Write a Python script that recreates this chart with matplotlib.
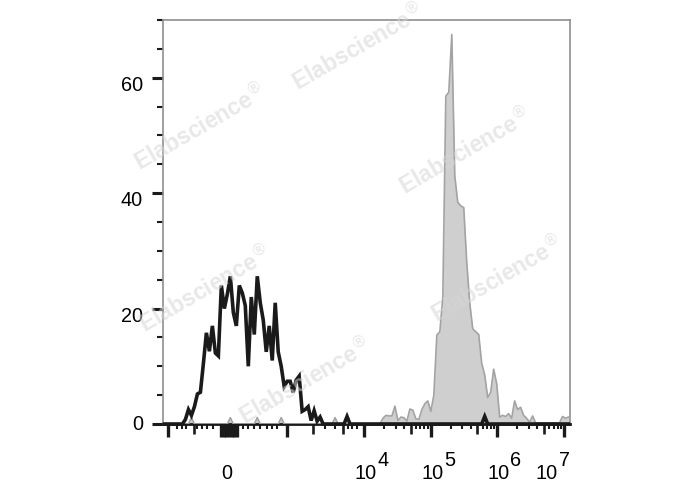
import numpy as np
import matplotlib
matplotlib.use("Agg")
import matplotlib.pyplot as plt

plt.rcParams['font.family'] = ['Liberation Sans', 'DejaVu Sans']

# Data ===========================================
# event counts per channel, 136 channels spread evenly over the display axis
n_bins = 136
x_min, x_max = -968, 1.23e7

# unstained control (black outline)
black_first = 7
black_counts = [0.8, 2.5, 1.5, 3.0, 5.2, 5.5, 10.5, 15.8, 12.6,
                17.0, 12.3, 11.8, 24.0, 20.0, 22.5, 25.6, 19.3, 17.0, 24.0,
                22.7, 20.5, 10.0, 22.0, 15.5, 25.6, 21.0, 18.0, 12.5, 17.0,
                11.0, 21.0, 12.5, 10.0, 6.5, 7.4, 7.4, 5.5, 7.6, 8.3,
                2.2, 2.5, 3.0, 0.6, 2.3, 0.5, 1.2]
black_extra_bins = [61, 107]
black_extra_counts = [1.3, 1.3]

# stained sample (grey filled)
gray_first = 73
gray_counts = [1.0, 1.5, 1.4, 1.4, 3.1, 0.6, 1.2, 1.1, 0.5, 2.6,
               2.4, 0.9, 0.8, 2.5, 3.5, 4.0, 2.2, 5.0, 15.4, 16.0,
               22.0, 56.8, 57.5, 67.5, 43.0, 38.4, 37.8, 37.5, 28.0, 21.0,
               16.5, 16.0, 15.5, 10.5, 8.5, 4.6, 5.5, 9.5, 7.0, 1.2,
               1.5, 1.3, 1.8, 1.0, 4.0, 2.5, 2.9, 1.5, 1.0, 0.3,
               1.4, 0.2, 0.2, 0.2, 0.2, 0.2, 0.2, 0.2, 0.2, 0.2,
               1.3, 1.0, 1.2]
gray_extra_bins = [9, 22, 31, 39, 57]
gray_extra_counts = [1.1, 1.1, 1.1, 1.1, 1.1]

# axis ticks
y_major = [0, 20, 40, 60]
y_minor = [5, 10, 15, 25, 30, 35, 45, 50, 55, 65, 70]
x_long = [-900, -120, -80, -40, 0, 40, 80, 120, 850, 1e4, 1e5, 1e6, 1e7]
x_mid = [-520, 1700, 4900, 5e4, 5e5, 5e6]
x_short = [-760, -690, -630, -470, -400, -320, -240, 200, 280, 370, 450,
           560, 630, 700, 2600, 3700, 5800, 6600, 7900]
x_short += [k * 10.0 ** d for d in (4, 5, 6) for k in (2, 3, 4, 6, 7, 8, 9)]
x_label_vals = [0, 1e4, 1e5, 1e6, 1e7]
x_label_base = ['0', '10', '10', '10', '10']
x_label_exp = ['', '4', '5', '6', '7']

black_full = np.zeros(n_bins)
black_full[black_first:black_first + len(black_counts)] = black_counts
black_full[black_extra_bins] = black_extra_counts
gray_full = np.zeros(n_bins)
gray_full[gray_first:gray_first + len(gray_counts)] = gray_counts
gray_full[gray_extra_bins] = gray_extra_counts

# Figure =========================================
fig = plt.figure(figsize=(6.88, 4.9), dpi=100, facecolor='white')
rect = [163 / 688, 66 / 490, 407 / 688, 404 / 490]
ax = fig.add_axes(rect)
ax.set_xscale('symlog', linthresh=1000, linscale=0.92)
ax.set_xlim(x_min, x_max)
ax.set_ylim(0, 70)

# channel centres through the axis' own transform
tr = ax.xaxis.get_transform()
t_edges = np.linspace(*tr.transform(np.array([x_min, x_max])), n_bins + 1)
bin_x = tr.inverted().transform((t_edges[:-1] + t_edges[1:]) / 2)

ax.fill_between(bin_x, gray_full, 0, color='#cfcfcf', lw=0, zorder=2)
ax.plot(bin_x, gray_full, color='#a3a3a3', lw=1.2, zorder=3)
ax.plot(bin_x, black_full, color='#1a1a1a', lw=2.6, zorder=4,
        solid_joinstyle='miter', clip_on=False)

# spines
for s in ['left', 'top', 'right']:
    ax.spines[s].set_color('#8f8f8f')
    ax.spines[s].set_linewidth(1.2)
ax.spines['bottom'].set_color('#1a1a1a')
ax.spines['bottom'].set_linewidth(2)

# ticks
ax.set_xticks(x_long)
ax.set_xticks(x_short, minor=True)
ax.tick_params(axis='x', which='major', direction='out', length=9.4,
               width=2.4, color='#1a1a1a', labelbottom=False)
ax.tick_params(axis='x', which='minor', direction='out', length=3.6,
               width=1.5, color='#1a1a1a')
ax.set_yticks(y_major)
ax.set_yticks(y_minor, minor=True)
ax.tick_params(axis='y', which='major', direction='out', length=8,
               width=2.2, color='#1a1a1a', labelleft=False)
ax.tick_params(axis='y', which='minor', direction='out', length=4.3,
               width=1.5, color='#1a1a1a')

# middle-length ticks on an overlay axes
ax_mid = fig.add_axes(rect, facecolor='none')
ax_mid.set_xscale('symlog', linthresh=1000, linscale=0.92)
ax_mid.set_xlim(x_min, x_max)
ax_mid.set_xticks(x_mid)
ax_mid.set_xticks([], minor=True)
ax_mid.set_yticks([])
ax_mid.tick_params(axis='x', which='major', direction='out', length=7,
                   width=1.9, color='#1a1a1a', labelbottom=False)
for s in ax_mid.spines.values():
    s.set_visible(False)

# tick labels
fs = 14.3
for v in y_major:
    dy = 0 if v == 0 else -5.4
    ax.annotate(str(v), xy=(0, v), xycoords=('axes fraction', 'data'),
                xytext=(-14.4, dy), textcoords='offset points',
                ha='right', va='center', fontsize=fs, annotation_clip=False)

x_label_dx = [-1.4, 1.4, 1.4, 0.7, -12.2]
for v, base, ex, dx in zip(x_label_vals, x_label_base, x_label_exp, x_label_dx):
    ax.annotate(base, xy=(v, 0), xycoords=('data', 'axes fraction'),
                xytext=(dx, -35.6), textcoords='offset points',
                ha='center', va='center', fontsize=fs, annotation_clip=False)
    if ex:
        ax.annotate(ex, xy=(v, 0), xycoords=('data', 'axes fraction'),
                    xytext=(dx + 8.4, -26.6), textcoords='offset points',
                    ha='left', va='center', fontsize=fs, annotation_clip=False)

# watermark
for px, py in [(200, 128), (358, 48), (465, 152), (497, 280), (205, 290), (305, 382)]:
    fig.text(px / 688, 1 - py / 490, r'Elabscience$^{\circledR}$',
             rotation=30, ha='center', va='center', fontsize=16.5,
             fontweight='bold', color='#d6d6d6', alpha=0.55, zorder=10)

fig.savefig('out.png', dpi=100)
